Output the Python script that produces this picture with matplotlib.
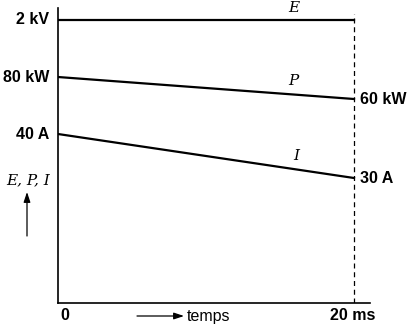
import matplotlib.pyplot as plt

# time span (ms) and end-point values of each quantity
t = [0, 20]
E_kV = [2, 2]
P_kW = [80, 60]
I_A = [40, 30]

plt.rcParams['font.family'] = ['Liberation Sans', 'DejaVu Sans']

W, H = 408, 329
fig = plt.figure(figsize=(W / 100, H / 100), dpi=100)

# axes box in pixels: x 58..370, y 8..303 (from top)
left, right, top, bottom = 58, 370, 8, 303
rect = [left / W, (H - bottom) / H, (right - left) / W, (bottom - top) / H]
xmax = 20 * (right - left) / (354 - left)


# each quantity gets its own vertical scale (schematic chart)
def make_axis(ylim):
    a = fig.add_axes(rect)
    a.set_ylim(*ylim)
    a.set_xlim(0, xmax)
    a.patch.set_visible(False)
    for s in a.spines.values():
        s.set_visible(False)
    a.set_xticks([])
    a.set_yticks([])
    return a


ax = make_axis((0, 1))
axE = make_axis((-0.83, 2.12))
axP = make_axis((-125.45, 142.73))
axI = make_axis((1.59, 68.64))

for s in ['left', 'bottom']:
    ax.spines[s].set_visible(True)
    ax.spines[s].set_linewidth(1.2)

lw = 1.6
axE.plot(t, E_kV, color='black', lw=lw)
axP.plot(t, P_kW, color='black', lw=lw)
axI.plot(t, I_A, color='black', lw=lw)

# dashed marker at the end of the interval
ax.axvline(t[1], ymin=0, ymax=0.98, color='black', lw=0.9, ls=(0, (4, 3)))

bold = dict(fontsize=11.5, fontweight='bold', color='black')
lx = -0.6
axE.text(lx, E_kV[0], f'{E_kV[0]} kV', ha='right', va='center', **bold)
axP.text(lx, P_kW[0], f'{P_kW[0]} kW', ha='right', va='center', **bold)
axI.text(lx, I_A[0], f'{I_A[0]} A', ha='right', va='center', **bold)
rx = t[1] + 0.4
axP.text(rx, P_kW[1], f'{P_kW[1]} kW', ha='left', va='center', **bold)
axI.text(rx, I_A[1], f'{I_A[1]} A', ha='left', va='center', **bold)

# curve names
ital = dict(fontsize=11, fontstyle='italic', family='DejaVu Serif', ha='center')
axE.text(15.9, E_kV[0] + 0.05, 'E', va='bottom', **ital)
axP.text(15.9, P_kW[0] + (P_kW[1] - P_kW[0]) * 15.9 / 20 + 6, 'P', va='bottom', **ital)
axI.text(16.1, I_A[0] + (I_A[1] - I_A[0]) * 16.1 / 20 + 1.5, 'I', va='bottom', **ital)

# x labels
fig.text(65 / W, 1 - 316 / H, '0', ha='center', va='center', **bold)
fig.text(353 / W, 1 - 316 / H, '20 ms', ha='center', va='center', **bold)
fig.text(187 / W, 1 - 316 / H, 'temps', ha='left', va='center', fontsize=11.5)
arr = dict(arrowstyle='-|>,head_length=0.6,head_width=0.2', color='black', lw=0.9,
           shrinkA=0, shrinkB=0)
fig.add_artist(plt.Annotation('', xy=(184 / W, 1 - 316 / H), xytext=(137 / W, 1 - 316 / H),
                              xycoords='figure fraction', arrowprops=arr))

# y label with upward arrow
fig.text(28 / W, 1 - 180 / H, 'E, P, I', ha='center', va='center', fontsize=11,
         fontstyle='italic', family='DejaVu Serif')
fig.add_artist(plt.Annotation('', xy=(27 / W, 1 - 192 / H), xytext=(27 / W, 1 - 236 / H),
                              xycoords='figure fraction', arrowprops=arr))

fig.savefig('out.png', dpi=100)
